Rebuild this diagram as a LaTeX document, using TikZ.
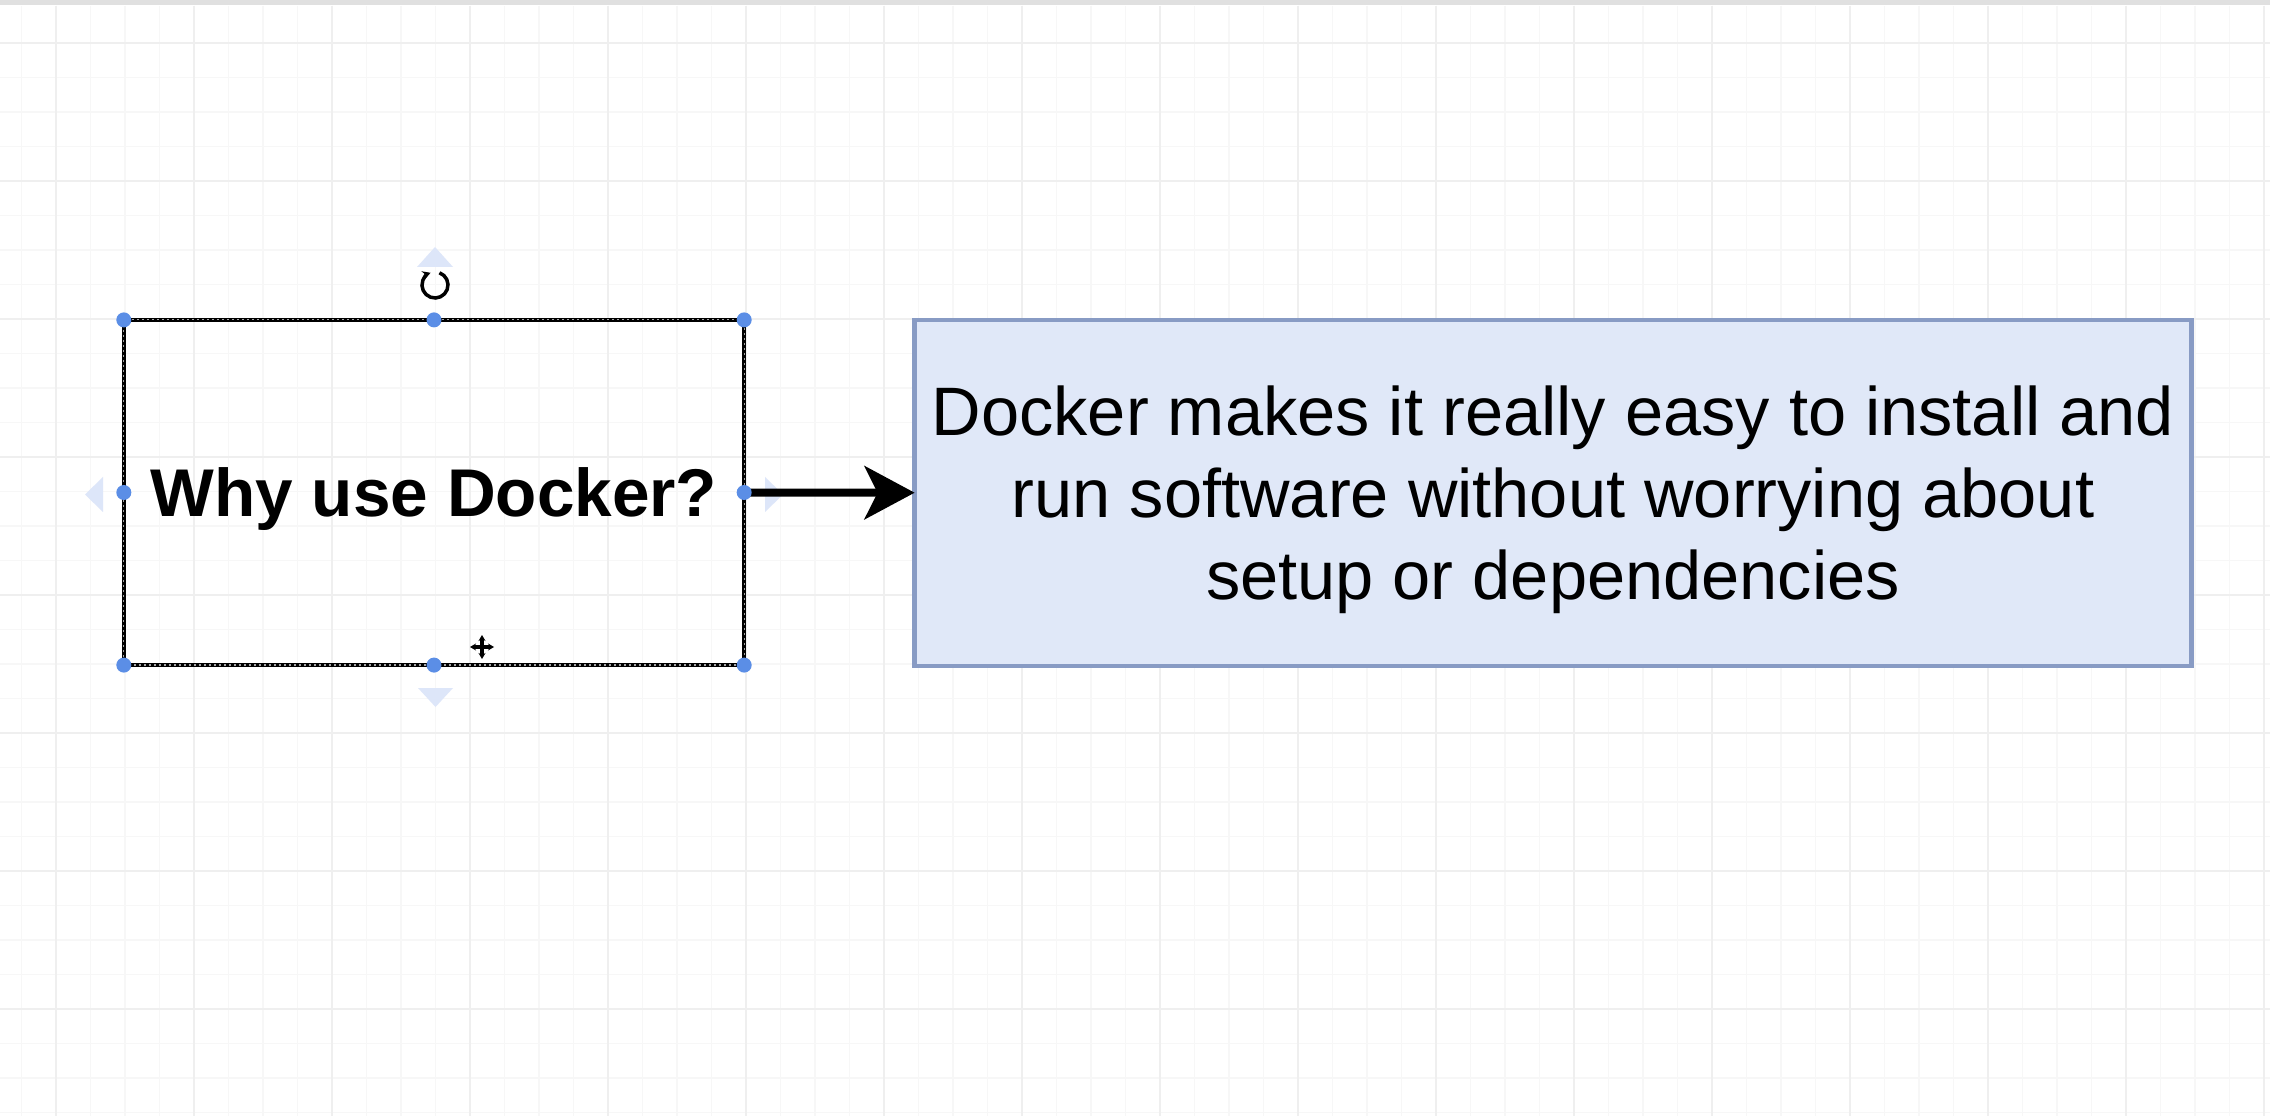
\documentclass[tikz,border=0pt]{standalone}
\usepackage{fontspec}
\setmainfont{Liberation Sans}
\usetikzlibrary{arrows.meta}

\definecolor{gridminor}{HTML}{F7F7F7}
\definecolor{gridmajor}{HTML}{EFEFEF}
\definecolor{handleblue}{HTML}{5B8EE6}
\definecolor{hoverblue}{HTML}{DDE6F9}
\definecolor{answerfill}{HTML}{E0E8F8}
\definecolor{answerline}{HTML}{889BC4}

\begin{document}
\begin{tikzpicture}[x=0.01cm,y=-0.01cm,
		handle/.style={circle,fill=handleblue,inner sep=0pt,minimum size=0.15cm},
		hover/.style={fill=hoverblue},
		question/.style={draw=black,line width=0.045cm,minimum width=6.2cm,minimum height=3.45cm,
			inner sep=0pt,outer sep=0pt,font=\bfseries\fontsize{19.2}{23}\selectfont},
		answer/.style={draw=answerline,fill=answerfill,line width=0.045cm,minimum width=12.76cm,
			minimum height=3.46cm,align=center,inner sep=0pt,outer sep=0pt,
			font=\fontsize{19.5}{23.3}\selectfont}]

		% canvas
		\useasboundingbox[fill=white] (0,0) rectangle (2270,1116);
		\fill[black!12] (0,0) rectangle (2270,5);

		% grid
		\foreach \i in {-1,...,64}
			\draw[gridminor,line width=0.015cm] ({56+34.5*\i},6) -- ({56+34.5*\i},1116);
		\foreach \j in {0,...,31}
			\draw[gridminor,line width=0.015cm] (0,{43+34.5*\j}) -- (2270,{43+34.5*\j});
		\foreach \i in {0,...,16}
			\draw[gridmajor,line width=0.015cm] ({56+138*\i},6) -- ({56+138*\i},1116);
		\foreach \j in {0,...,7}
			\draw[gridmajor,line width=0.015cm] (0,{43+138*\j}) -- (2270,{43+138*\j});

		% hover arrows of the selected shape
		\fill[hover] (417,267) -- (453,267) -- (435,247) -- cycle;
		\fill[hover] (103,477) -- (103,512) -- (85,494.5) -- cycle;
		\fill[hover] (418,688) -- (453,688) -- (435.5,707) -- cycle;
		\fill[hover] (765,477) -- (765,512) -- (783,494.5) -- cycle;

		%% Shapes %%
		\node[question] (why) at (434,492.5) {\rule{0pt}{0.62cm}Why use Docker?};
		\node[answer] (answer) at (1553,493) {\rule{0pt}{0.63cm}Docker makes it really easy to install and\\
			run software without worrying about\\
			setup or dependencies};

		% selection outline
		\draw[white!65!black,line width=0.012cm,dash pattern=on 0.02cm off 0.03cm]
			(why.north west) rectangle (why.south east);

		% connector
		\draw[line width=0.08cm,-{Stealth[length=0.5cm,width=0.53cm,inset=0.13cm]}] (why) -- (answer);

		% handles
		\foreach \a in {north west,north,north east,east,south east,south,south west,west}
			\node[handle] (h-\a) at (why.\a) {};

		% rotate icon and move cursor
		\draw[line width=0.035cm,-{Stealth[length=0.08cm,width=0.09cm]}]
			([shift={(-70:13)}]435,285) arc[start angle=-70,delta angle=320,radius=13];
		\draw[line width=0.035cm,{Stealth[length=0.06cm,width=0.07cm]}-{Stealth[length=0.06cm,width=0.07cm]}]
			(470,647) -- (494,647);
		\draw[line width=0.035cm,{Stealth[length=0.06cm,width=0.07cm]}-{Stealth[length=0.06cm,width=0.07cm]}]
			(482,635) -- (482,659);

	\end{tikzpicture}
\end{document}
